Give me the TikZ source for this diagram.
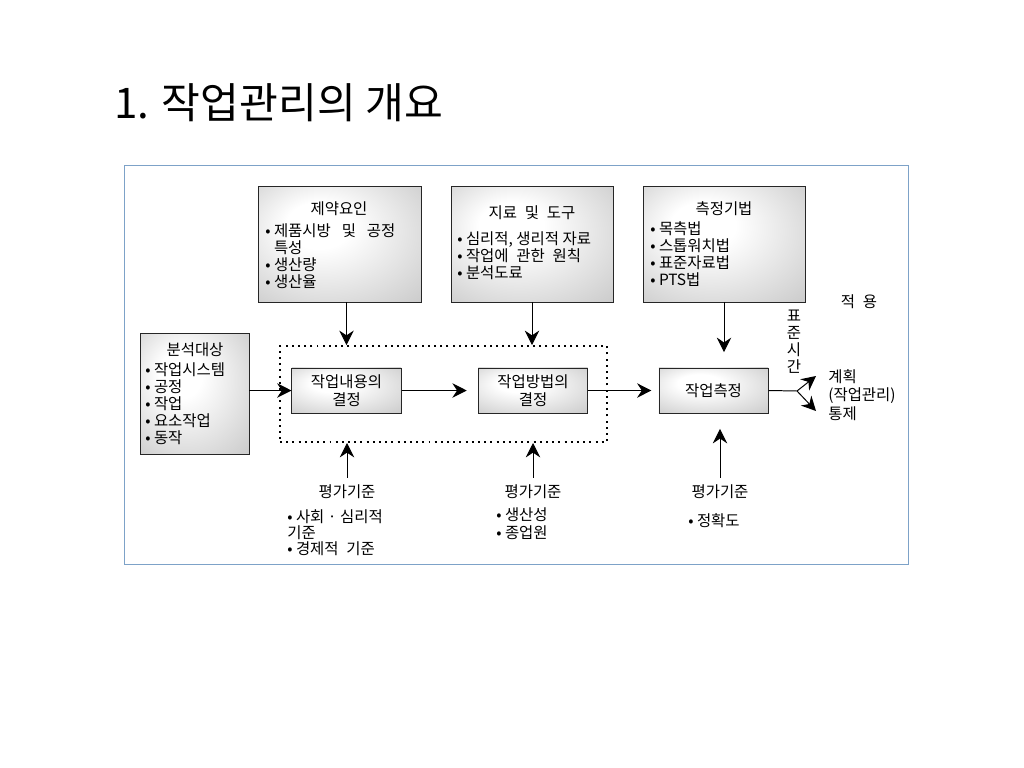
\documentclass[tikz,border=0pt]{standalone}
\usepackage{fontspec}
\setmainfont{Noto Sans CJK KR}
\usepackage{xcolor}
\usetikzlibrary{arrows.meta,fit,positioning}
\definecolor{framecol}{RGB}{125,162,200}
\pgfdeclareradialshading{boxshade}{\pgfpoint{-8bp}{10bp}}{color(0bp)=(white); color(10bp)=(white); color(38bp)=(black!20); color(50bp)=(black!27)}

\begin{document}
\begin{tikzpicture}[x=0.025cm, y=-0.025cm,
                    box/.style={draw=black!85, line width=0.7pt, inner sep=0pt,
                                shading=boxshade,
                                font=\fontsize{11}{12.5}\selectfont, align=center},
                    step box/.style={box, minimum width=2.725cm, minimum height=1.125cm},
                    head/.style={font=\fontsize{11}{12.5}\selectfont, inner sep=0pt},
                    items/.style={font=\fontsize{11}{12.2}\selectfont, align=left,
                                  anchor=north west, inner sep=0pt},
                    arr/.style={-{Stealth[length=3.6mm,width=3.6mm,inset=1.2mm]}, line width=0.7pt}]
  \useasboundingbox (0,0) rectangle (1024,768);
  \node[anchor=west, inner sep=0pt, font=\fontsize{30}{34}\selectfont] (title) at (114,103) {1. 작업관리의 개요};
  \node[draw=framecol, line width=0.7pt, inner sep=0pt, fit={(124,165) (908,564)}] (frame) {};

  \node[box, fit={(258,186) (421,302)}] (limit) {};
  \node[head] (limithead) at (339,209) {제약요인};
  \node[items] (limititems) at (265,223) {• 제품시방\hspace{0.7em}및\hspace{0.7em}공정\\\phantom{• }특성\\• 생산량\\• 생산율};

  \node[box, fit={(451,186) (613,302)}] (tools) {};
  \node[head] (toolshead) at (532,213) {지료\enspace 및\enspace 도구};
  \node[items] (toolsitems) at (457,231) {• 심리적, 생리적 자료\\• 작업에\enspace 관한\enspace 원칙\\• 분석도료};

  \node[box, fit={(643,186) (805,302)}] (technique) {};
  \node[head] (techniquehead) at (724,209) {측정기법};
  \node[items] (techniqueitems) at (650,221) {• 목측법\\• 스톱워치법\\• 표준자료법\\• PTS법};

  \node[box, fit={(140,333) (249,454)}] (target) {};
  \node[head] (targethead) at (195,350) {분석대상};
  \node[items] (targetitems) at (145,362) {• 작업시스템\\• 공정\\• 작업\\• 요소작업\\• 동작};

  \node[draw, line width=1.4pt, dash pattern=on 1.4pt off 3pt, inner sep=0pt,
        fit={(280,346) (607,442)}] (design) {};
  \node[step box] (content) at (346.5,390.5) {작업내용의\\결정};
  \node[step box] (method) at (533,390.5) {작업방법의\\결정};
  \node[step box] (measure) at (713.5,390.5) {작업측정};

  \node[head, align=center, font=\fontsize{11}{12}\selectfont] (stdtime) at (794,342) {표\\준\\시\\간};
  \node[head] (apply) at (859,302) {적\enspace 용};
  \node[head, anchor=west, align=left, font=\fontsize{11}{13}\selectfont] (result) at (828,395) {계획\\(작업관리)\\통제};
  \coordinate (split) at (797,391);
  \coordinate (plan) at (816,376);
  \coordinate (control) at (816,411);

  \node[head] (crit1) at (347,492) {평가기준};
  \node[items, font=\fontsize{11}{11.5}\selectfont] (crit1items) at (287,509) {• 사회 · 심리적\\기준\\• 경제적\enspace 기준};
  \node[head] (crit2) at (533,492) {평가기준};
  \node[items, font=\fontsize{11}{12.8}\selectfont] (crit2items) at (496,507) {• 생산성\\• 종업원};
  \node[head] (crit3) at (720,492) {평가기준};
  \node[items] (crit3items) at (688,513) {• 정확도};

  \draw[arr] (target.east |- content) -- (content.west);
  \draw[arr, shorten >=8pt] (content) -- (method);
  \draw[arr, shorten >=5pt] (method) -- (measure);
  \draw[arr] (limit.south -| content.north) -- (design.north -| content.north);
  \draw[arr] (tools.south) -- (design.north -| tools.south);
  \draw[arr, shorten >=11pt] (technique.south) -- (technique.south |- measure.north);
  \draw[arr, shorten <=5pt] (crit1.north) -- (crit1.north |- design.south);
  \draw[arr, shorten <=5pt] (crit2.north) -- (crit2.north |- design.south);
  \draw[arr, shorten <=5pt, shorten >=11pt] (crit3.north) -- (crit3.north |- measure.south);
  \draw[line width=0.7pt] (measure.east) -- (split);
  \draw[arr] (split) -- (plan);
  \draw[arr] (split) -- (control);
\end{tikzpicture}
\end{document}
